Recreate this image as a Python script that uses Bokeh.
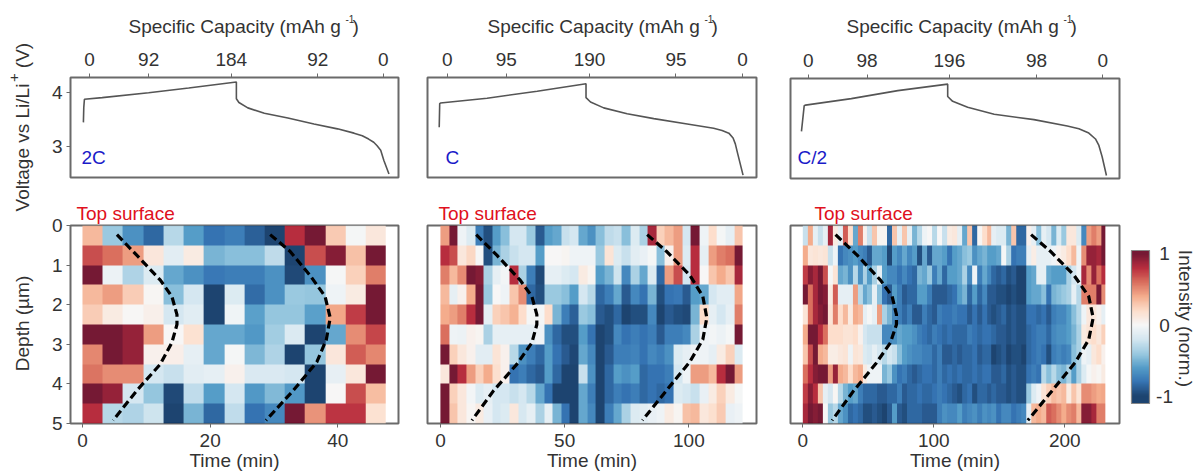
import math
import numpy as np
from bokeh.embed import file_html
from bokeh.resources import INLINE
from bokeh.layouts import row, column
from bokeh.models import Range1d, LinearColorMapper, FixedTicker, Label
from bokeh.palettes import RdBu11, interp_palette
from bokeh.plotting import figure

# ---------- heat maps (rows: depth, top to bottom) ----------
map_2c = [
 [0.35,-0.4,-0.65,-0.85,-0.3,-0.6,-0.8,-0.75,-0.88,-1,0.8,1,0.28,-0.02,0.12],
 [0.7,0.6,0.45,0.13,-0.12,0.1,-0.5,-0.45,-0.45,-0.28,-1,0.7,0.95,0.32,1],
 [1,-0.07,-0.33,-0.15,-0.55,-0.65,-0.78,-0.75,-0.75,-0.65,-0.97,-0.65,-0.01,0.25,0.55],
 [0.35,0.45,0.27,0.02,-0.45,-0.2,-1,-0.15,-0.83,-0.65,-0.4,-0.42,-0.05,0.1,1],
 [0.27,0.1,0.01,0.06,-0.2,-0.13,-1,-0.04,-0.58,-0.42,-0.42,-0.58,0.42,0.75,1],
 [1,1,0.9,0.45,0.0,0.17,-0.55,-0.55,-0.62,-0.38,-0.16,-1,-0.55,0.5,0.72],
 [0.52,1,0.9,0.05,0.07,-0.1,-0.55,-0.02,-0.48,-0.33,-1,-0.42,0.13,0.65,0.52],
 [0.58,0.5,0.5,-0.2,-0.25,-0.12,-0.1,0.05,-0.17,-0.17,-0.2,-1,-0.09,0.12,1],
 [1,0.9,-0.2,-0.42,-0.97,-0.27,-0.6,-0.2,-0.62,-0.47,-0.62,-1,0.0,0.7,0.33],
 [0.8,-0.3,-0.33,-0.22,-1,-0.5,-0.85,-0.27,-0.8,-0.7,1,0.48,0.78,0.78,0.17],
]
map_c = [
 [0.45,1,-0.05,-0.15,-0.75,-0.95,-0.6,-0.45,-0.2,-0.2,-0.4,-0.9,-0.6,-0.55,-0.25,-0.2,-0.55,-0.65,-0.45,-0.28,-0.25,-0.45,-0.15,-0.35,0.85,0.25,0.35,0.45,-0.2,1,-0.05,0.2,-0.02,-0.1,0.3],
 [0.8,0.7,0.12,0.22,-0.01,-0.95,-0.5,-0.35,-0.25,-0.2,-0.2,-0.6,0,0,0.03,-0.05,-0.05,-0.05,-0.4,0.15,-0.15,-0.25,-0.12,-0.08,-0.02,-0.45,0.05,0.45,-0.15,0.8,-0.1,0.45,0.55,0.6,1],
 [0.55,0.35,0.5,1,0.95,-0.35,-0.1,-0.03,0.8,-0.35,-0.75,-0.97,-0.1,-0.1,-0.15,-0.2,0.1,0.03,-0.6,-0.5,-0.22,-0.7,-0.35,-0.55,-0.15,-0.85,0.45,0.7,-0.2,0.8,0.0,0.3,0.4,0.3,0.85],
 [0.35,-0.1,0.05,0.4,1,-0.4,0,-0.05,0.3,0.5,-0.85,-0.95,-0.4,-0.4,-0.45,-0.6,-0.2,-0.3,-0.85,-0.75,-0.55,-0.9,-0.7,-0.8,-0.5,-0.95,-0.8,-0.78,-0.9,-0.6,-0.55,-0.2,-0.12,-0.12,0.42],
 [0.4,0.45,0.55,0.8,1,-0.1,0.25,0.3,0.38,0.2,-0.02,-0.02,0.2,-0.5,-0.75,-0.88,-0.4,-0.45,-0.9,-0.95,-0.85,-1,-0.95,-0.95,-0.7,-1,-0.9,-0.95,-0.97,-0.5,0.2,-0.1,-0.2,-0.1,0.55],
 [0.6,-0.05,-0.07,0.05,0.03,-0.35,-0.1,-0.1,-0.1,-0.1,-0.1,-0.05,-0.65,-0.85,-0.95,-0.95,-0.6,-0.8,-1,-0.95,-0.7,-0.8,-0.75,-0.8,-0.75,-0.9,-0.75,-0.75,-0.7,-0.35,-0.05,-0.03,-0.07,-0.02,1],
 [1,0.25,0.12,0.05,-0.12,-0.12,0.15,0.05,-0.3,-0.65,-0.75,-0.85,-0.6,-0.8,-0.9,-0.98,-0.55,-0.7,-1,-0.9,-0.75,-0.75,-0.72,-0.8,-0.7,-0.75,-0.65,-0.15,-0.1,-0.05,-0.05,-0.1,0.1,0.25,-0.15],
 [0.12,1,0.8,0.45,0.25,0.4,0.18,0.05,-0.8,-0.75,-0.85,-0.9,-0.6,-0.85,-1,-1,-0.25,-0.65,-1,-0.85,-0.6,-0.65,-0.6,-0.85,-0.8,-0.8,-0.75,-0.2,-0.05,0.45,0.45,0.35,0.8,1,0.45],
 [1,0.25,0.12,-0.03,-0.15,-0.1,-0.2,-0.2,-0.25,-0.2,-0.3,-0.55,-0.8,-1,-1,-1,-0.55,-0.75,-1,-0.85,-0.75,-0.8,-0.75,-0.85,-0.8,-0.85,-0.8,-0.15,-0.2,-0.25,-0.08,0.1,0.25,0.1,-0.02],
 [1,0.3,0.12,0.02,0.1,-0.08,-0.2,-0.15,0.12,-0.18,-0.1,-0.35,-0.1,-0.5,-0.8,-1,-0.55,-0.7,-1,-0.75,-0.55,-0.35,-0.15,-0.12,-0.08,-0.05,0.1,0.03,0.32,0.35,0.12,0.18,0.28,-0.08,-0.05],
]
map_c2 = [
 [-0.25,0.4,-0.1,-0.25,-0.1,0.85,0.1,-0.1,0.65,0.2,-0.55,0.55,0.05,-0.25,0.3,0.03,0.03,-0.85,0.3,-0.1,0.3,-0.1,-0.5,-0.3,-0.05,0.0,-0.3,0.0,-0.25,0.1,
  0.12,-0.1,-0.55,0.3,-0.85,0.02,0.2,0.35,-0.1,-0.15,-0.15,-0.5,0.3,-0.85,-0.85,0.05,-0.1,-0.45,-0.1,-0.2,-0.5,-0.15,-0.4,0.12,0.12,-0.15,-0.7,0.45,0.55,0.45,1],
 [0.4,0.12,0.15,0.12,0.15,-0.25,-0.05,-0.8,-0.7,-0.65,-0.6,-0.7,-0.75,-0.9,-0.55,-0.55,-0.6,-0.98,-0.6,-0.7,-0.55,-0.7,-0.6,-0.95,-0.55,-0.9,-0.55,-0.55,-0.6,-0.8,
  -0.6,-0.55,-0.45,-0.4,-0.65,-0.55,-0.5,-0.6,-0.6,-0.55,-0.02,-0.35,-0.8,-0.75,-0.75,-0.1,0.08,-0.1,-0.1,-0.1,-0.05,0.05,0.1,0.2,0.35,-0.05,0.5,0.9,0.9,0.85,1],
 [0.75,0.95,0.85,1,0.7,-0.02,0.15,-0.55,-0.5,-0.65,-0.3,-0.65,-0.35,-0.6,-0.35,-0.1,-0.6,-0.7,-0.7,-0.8,-0.7,-0.8,-0.85,-0.5,-0.55,-0.4,-0.75,-0.55,-0.85,-0.6,
  -0.6,-0.55,-0.35,-0.7,-0.05,-0.75,-0.55,-0.7,-0.85,-0.9,-0.85,-0.95,-0.9,-1,-1,-0.6,-0.55,-0.1,-0.1,-0.55,-0.6,-0.6,-0.6,-0.35,-0.2,-0.05,0.85,0.5,0.9,0.6,0.8],
 [1,0.6,0.85,1,0.95,0.1,0.65,-0.1,-0.1,-0.1,0.45,-0.3,-0.55,-0.45,-0.1,-0.45,-0.8,-0.9,-0.6,-0.75,-0.9,-0.85,-0.85,-0.6,-0.6,-0.75,-0.9,-0.9,-0.9,-0.85,
  -0.8,-0.6,-0.5,-0.85,-0.6,-0.85,-0.7,-0.9,-0.9,-0.95,-0.95,-1,-0.95,-1,-1,-0.6,-0.55,-0.55,-0.45,-0.8,-0.5,-0.45,-0.4,-0.35,-0.1,-0.3,0.55,0.55,0.55,1,0.5],
 [0.15,0.6,0.85,0.95,1,0.15,0.55,0.2,0.35,0.1,0.4,0.35,-0.1,-0.02,-0.1,0.45,-0.35,-0.5,-0.7,-0.75,-0.85,-0.75,-0.9,-0.9,-0.75,-0.85,-0.9,-0.75,-0.8,-0.8,
  -0.75,-0.8,-0.8,-0.9,-0.8,-0.9,-0.8,-0.9,-0.95,-0.9,-0.85,-0.95,-0.9,-0.95,-0.95,-0.8,-0.8,-0.85,-0.8,-0.9,-0.75,-0.7,-0.7,-0.6,-0.45,-0.3,-0.05,0.12,0.12,0.05,-0.1],
 [0.4,1,1,0.8,0.6,0.2,0.2,0.2,0.15,0.15,0.2,0.05,-0.2,-0.25,-0.25,-0.25,-0.7,-0.7,-0.65,-0.55,-0.6,-0.6,-0.65,-0.75,-0.8,-0.85,-0.75,-0.8,-0.85,-0.8,
  -0.85,-0.85,-0.85,-0.75,-0.8,-0.85,-0.8,-0.8,-0.85,-0.9,-0.9,-0.95,-0.9,-0.95,-0.95,-0.85,-0.8,-0.75,-0.75,-0.85,-0.7,-0.65,-0.65,-0.6,-0.5,-0.35,0.1,0.15,0.2,0.12,0.25],
 [0.3,0.7,1,0.4,0.35,0.08,0.08,0.12,0.15,-0.05,0.15,0.12,-0.15,-0.2,-0.1,-0.2,-0.3,-0.2,-0.25,-0.45,-0.6,-0.65,-0.7,-0.7,-0.75,-0.75,-0.85,-0.75,-0.9,-0.9,
  -0.85,-0.9,-0.85,-0.85,-0.8,-0.9,-0.85,-0.85,-1,-0.95,-0.9,-1,-0.95,-0.95,-1,-0.85,-0.8,-0.75,-0.8,-0.95,-0.75,-0.7,-0.75,-0.7,-0.45,-0.35,-0.05,-0.1,0.12,0.2,0.05],
 [0.6,0.8,0.95,1,1,0.45,0.9,0.4,0.35,0.2,0.35,0.4,0.1,-0.05,-0.05,-0.05,-0.5,-0.4,-0.65,-0.8,-0.75,-0.85,-0.9,-0.85,-0.8,-0.8,-0.85,-0.75,-0.85,-0.8,
  -0.85,-0.8,-0.85,-0.85,-0.8,-0.85,-0.8,-0.8,-0.9,-0.9,-0.85,-0.95,-0.9,-0.95,-0.95,-0.8,-0.75,-0.8,-0.3,-0.45,-0.3,-0.45,-0.5,-0.35,-0.6,-0.35,-0.15,-0.02,0.05,0.02,0.1],
 [0.75,0.95,0.8,0.3,-0.1,-0.2,0.02,-0.3,-0.5,-0.6,-0.55,-0.75,-0.85,-0.85,-0.85,-0.9,-0.9,-0.85,-0.85,-0.75,-0.9,-0.85,-0.85,-0.8,-0.85,-0.85,-0.8,-0.75,-0.8,-0.85,
  -0.9,-0.95,-0.85,-0.8,-0.95,-0.85,-0.85,-0.9,-0.85,-0.9,-0.9,-0.95,-0.9,-0.95,-0.95,-0.4,-0.15,-0.05,0.15,0.25,0.35,0.3,0.35,0.1,0.3,0.15,0.5,0.5,0.45,0.4,0.42],
 [0.85,1,0.95,1,0.0,-0.4,-0.3,-0.55,-0.65,-0.85,-0.8,-0.85,-0.95,-0.95,-0.9,-0.95,-1,-0.9,-0.6,-0.9,-0.95,-0.85,-0.85,-0.85,-0.9,-0.9,-0.9,-0.75,-0.65,-0.7,
  -0.7,-0.6,-0.75,-0.7,-0.65,-0.75,-0.65,-0.7,-0.65,-0.8,-0.7,-0.7,-0.8,-0.75,-0.7,-0.1,0.35,0.4,0.35,0.65,0.6,0.5,0.4,0.5,0.55,0.35,0.95,0.95,0.85,0.55,0.55],
]
map_end_time = [47.5, 121.6, 231.0]
depth_end = 5.0

# ---------- voltage curves (time in minutes, volts) ----------
t_2c = [-0.16,-0.1,0,2.8,10.1,16.4,23.9,23.9,24.3,25.7,28.3,32,36.1,39.8,42.4,43.7,44.7,45.5,46,46.6,47.1,47.9]
v_2c = [3.45,3.73,3.88,3.91,4.0,4.09,4.20,3.89,3.82,3.72,3.62,3.53,3.42,3.33,3.25,3.20,3.14,3.08,3.02,2.93,2.74,2.49]
t_c = [-0.5,-0.3,0,18.7,38.8,58.4,58.4,60.2,65.5,74.9,85.6,99,109.6,113,115.7,117.4,118.3,119.3,121.4]
v_c = [3.36,3.80,3.81,3.90,4.03,4.17,3.91,3.83,3.72,3.61,3.52,3.42,3.34,3.30,3.25,3.16,3.05,2.86,2.47]
t_c2 = [-1.8,0.3,1.3,36.4,72,110.2,110.2,114,125.5,145.8,176.3,201.8,210.7,218.3,223.4,226,228.5,231.8]
v_c2 = [3.30,3.78,3.79,3.91,4.06,4.18,3.95,3.86,3.75,3.62,3.52,3.40,3.35,3.27,3.16,3.04,2.83,2.48]

# ---------- dashed reaction fronts (time, depth) ----------
front_d1 = [0.23,0.75,1.38,1.79,2.25,2.5,2.96,3.5,4.17,4.92]
front_d2 = [0.23,0.65,1.25,1.79,2.33,2.88,3.45,4.17,4.92]
f1_2c = [5.4,8.5,12.2,14,14.8,14.8,14,12.2,8.5,4.8]
f2_2c = [29.4,32.5,35.6,38,38.8,38.2,36.7,33,28.75]
f1_c = [14.4,22.7,32.1,36.8,38.8,38.8,36.8,30.8,21.4,12.7]
f2_c = [83.2,90.9,100.3,105.6,107.2,105.6,100.3,90.9,81.3]
f1_c2 = [25,41.5,59.3,68.2,71.5,71.5,66.9,55.5,38.9,22.4]
f2_c2 = [174.3,189,206.9,218.3,221.7,218.3,208.2,190.4,171.8]

# ---------- tick labels and texts ----------
cap_ticks_2c = [0.8,10.1,23.1,36.7,47.0]
cap_ticks_c = [2.7,26.4,59.8,94.5,121.2]
cap_ticks_c2 = [3.4,48.4,111.5,178.2,229.0]
cap_labels_2c = ["0","92","184","92","0"]
cap_labels_c = ["0","95","190","95","0"]
cap_labels_c2 = ["0","98","196","98","0"]
time_ticks = [[0,20,40],[0,50,100],[0,100,200]]
rates = ["2C","C","C/2"]

FONT = "Liberation Sans"
FS = "19px"
TXT = "#333333"
GRAY = "#6a6a6a"
HEAD_H = 40
TOP_H = 158
BOT_H = 275
TOTAL_H = HEAD_H + TOP_H + BOT_H

palette = interp_palette(RdBu11, 256)
cmap = LinearColorMapper(palette=palette, low=-1, high=1)


def base(fig, width, height, left, right, top, bottom):
    fig.width = width
    fig.height = height
    fig.min_border_left = left
    fig.min_border_right = right
    fig.min_border_top = top
    fig.min_border_bottom = bottom
    fig.outline_line_color = GRAY
    fig.outline_line_width = 2
    fig.grid.visible = False
    return fig


def style(axis):
    axis.axis_line_color = None
    axis.major_tick_line_color = GRAY
    axis.major_tick_line_width = 1
    axis.major_tick_out = 4
    axis.major_tick_in = 0
    axis.minor_tick_line_color = None
    axis.major_label_text_font = FONT
    axis.major_label_text_font_size = FS
    axis.major_label_text_color = TXT
    axis.axis_label_text_font = FONT
    axis.axis_label_text_font_size = FS
    axis.axis_label_text_font_style = "normal"
    axis.axis_label_text_color = TXT


def lab(fig, x, y, text, color=TXT, size=FS, align="left", angle=0):
    fig.add_layout(Label(x=x, y=y, x_units="canvas", y_units="canvas", text=text,
                         text_font=FONT, text_font_size=size, text_color=color,
                         text_align=align, text_baseline="middle", angle=angle))


def blank(width, height):
    f = figure(width=width, height=height, x_range=Range1d(0, 1), y_range=Range1d(0, 1),
               x_axis_type=None, y_axis_type=None, output_backend="svg", toolbar_location=None,
               min_border_left=0, min_border_right=0, min_border_top=0, min_border_bottom=0)
    f.outline_line_color = None
    f.grid.visible = False
    return f


def top_panel(x0, x1, L, R, T, B, t, v, ticks, labels, rate, rate_x, show_y):
    p = figure(x_range=Range1d(*TOPX[rate]), y_range=Range1d(2.425, 4.285), x_axis_location="above",
               output_backend="svg", toolbar_location=None)
    base(p, x1 - x0, TOP_H, L - x0, x1 - R, T - HEAD_H, HEAD_H + TOP_H - B)
    p.line(t, v, line_color="#555555", line_width=1.6)
    p.xaxis.ticker = FixedTicker(ticks=ticks)
    p.xaxis.major_label_overrides = dict(zip(ticks, labels))
    p.xaxis.major_label_standoff = 8
    style(p.xaxis[0])
    style(p.yaxis[0])
    p.yaxis.ticker = FixedTicker(ticks=[3, 4])
    p.yaxis.major_label_standoff = 4
    if not show_y:
        p.yaxis.visible = False
    lab(p, rate_x - x0, 157 - HEAD_H, rate, color="#1a1ac8")
    return p


def bottom_panel(x0, x1, L, R, T, B, data, tend, ticks, f1, f2, rate, show_y, ts_x):
    p = figure(x_range=Range1d(*BOTX[rate]), y_range=Range1d(depth_end, 0),
               output_backend="svg", toolbar_location=None)
    base(p, x1 - x0, BOT_H, L - x0, x1 - R, T - HEAD_H - TOP_H, HEAD_H + TOP_H + BOT_H - B)
    p.image(image=[np.array(data, dtype=float)], x=0, y=0, dw=tend, dh=depth_end,
            color_mapper=cmap, global_alpha=0.9)
    p.line(f1, front_d1, line_color="black", line_width=3.2, line_dash="8 4")
    p.line(f2, front_d2, line_color="black", line_width=3.2, line_dash="8 4")
    p.xaxis.ticker = FixedTicker(ticks=ticks)
    p.xaxis.axis_label = "Time (min)"
    p.xaxis.major_label_standoff = 6
    p.xaxis.axis_label_standoff = 0
    style(p.xaxis[0])
    style(p.yaxis[0])
    p.yaxis.ticker = FixedTicker(ticks=[0, 1, 2, 3, 4, 5])
    p.yaxis.major_label_standoff = 4
    if not show_y:
        p.yaxis.visible = False
    p.title.text = "Top surface"
    p.title.align = "left"
    p.title.offset = ts_x - L
    p.title.standoff = 3
    p.title.text_font = FONT
    p.title.text_font_size = FS
    p.title.text_font_style = "normal"
    p.title.text_color = "#e01020"
    return p


TOPX = {"2C": (-2.19, 49.4), "C": (-5.2, 126.8), "C/2": (-10.2, 241.8)}
BOTX = {"2C": (-1.875, 49.5), "C": (-5.2, 127.2), "C/2": (-9.4, 241.8)}

cols = []
cfg = [
 (40, 415, (68, 398, 77, 177), (70, 399, 225, 424), t_2c, v_2c, cap_ticks_2c, cap_labels_2c, "2C", 81, True, 128, map_2c, map_end_time[0], time_ticks[0], f1_2c, f2_2c, 76),
 (415, 775, (427, 756, 77, 177), (427, 757, 225, 424), t_c, v_c, cap_ticks_c, cap_labels_c, "C", 445, False, 487, map_c, map_end_time[1], time_ticks[1], f1_c, f2_c, 438),
 (775, 1125, (789, 1119, 78, 178), (790, 1119, 225, 424), t_c2, v_c2, cap_ticks_c2, cap_labels_c2, "C/2", 797, False, 846, map_c2, map_end_time[2], time_ticks[2], f1_c2, f2_c2, 814),
]
for x0, x1, tf, bf, t, v, ct, cl, rate, rx, sy, tx, data, tend, tt, f1, f2, tsx in cfg:
    head = blank(x1 - x0, HEAD_H)
    lab(head, tx - x0, 26, "Specific Capacity (mAh g")
    lab(head, tx + 217 - x0, 18, "-1", size="10px")
    lab(head, tx + 224 - x0, 26, ")")
    top = top_panel(x0, x1, tf[0], tf[1], tf[2], tf[3], t, v, ct, cl, rate, rx, sy)
    bot = bottom_panel(x0, x1, bf[0], bf[1], bf[2], bf[3], data, tend, tt, f1, f2, rate, sy, tsx)
    cols.append(column(head, top, bot, spacing=0))

# left strip with the y titles
strip = blank(40, TOTAL_H)
ANG = math.pi / 2
lab(strip, 22, 147, "Voltage vs Li/Li", align="center", angle=ANG)
lab(strip, 13, 77, "+", size="15px", align="center", angle=ANG)
lab(strip, 22, 55, "(V)", align="center", angle=ANG)
lab(strip, 22, 323, "Depth (\u00b5m)", align="center", angle=ANG)

# colour bar: the frame fills this figure, so its texts are not clipped
cb_w = 70
px_per_unit = 71.5
zero_y = 324.5
cb_low, cb_high = -(403 - zero_y) / px_per_unit, (zero_y - 250) / px_per_unit
cb = figure(x_range=Range1d(1125, 1125 + cb_w),
            y_range=Range1d(-(TOTAL_H - zero_y) / px_per_unit, zero_y / px_per_unit),
            x_axis_type=None, y_axis_type=None, output_backend="svg", toolbar_location=None,
            width=cb_w, height=TOTAL_H, min_border_left=0, min_border_right=0,
            min_border_top=0, min_border_bottom=0)
cb.outline_line_color = None
cb.grid.visible = False
grad = np.linspace(cb_low, cb_high, 256).reshape(-1, 1)
cb.image(image=[grad], x=1131, y=cb_low, dw=18, dh=cb_high - cb_low, color_mapper=cmap, global_alpha=0.9)
cb.quad(left=[1131], right=[1149], bottom=[cb_low], top=[cb_high], fill_color=None,
        line_color="#888888", line_width=1.2)
for val, txt in [(1, "1"), (0, "0"), (-1, "-1")]:
    cb.add_layout(Label(x=1164, y=val, x_units="data", y_units="data", text=txt,
                        text_font=FONT, text_font_size=FS, text_color=TXT,
                        text_align="center", text_baseline="middle"))
lab(cb, 1185 - 1125, 318, "Intensity (norm.)", align="center", angle=-ANG)

page = row(strip, *cols, cb, spacing=0)
open("out.html", "w").write(file_html(page, INLINE))
